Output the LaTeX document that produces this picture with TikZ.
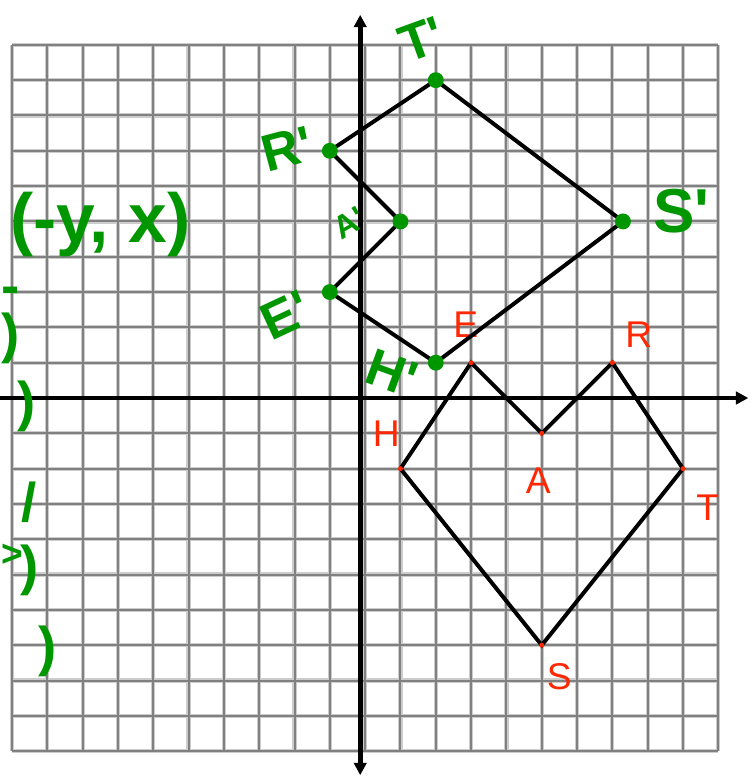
\documentclass[tikz,border=0pt]{standalone}
\usepackage{fontspec}
\usepackage{xcolor}
\usepackage{tikz}
\usetikzlibrary{arrows.meta}
\newfontfamily\penfont{Liberation Sans}
\definecolor{pengreen}{RGB}{0,150,0}
\definecolor{markred}{RGB}{255,40,0}
\definecolor{gridgray}{RGB}{128,128,128}

\begin{document}
\begin{tikzpicture}[
    redlabel/.style={text=markred, inner sep=0pt, font=\penfont\fontsize{30}{32}\selectfont},
    greenlabel/.style={text=pengreen, inner sep=0pt, font=\penfont\bfseries\fontsize{42}{44}\selectfont},
    scrawl/.style={text=pengreen, inner sep=0pt, font=\penfont\bfseries\fontsize{56}{60}\selectfont},
    reddot/.style={circle, fill=markred, inner sep=0pt, minimum size=4pt},
    greendot/.style={circle, fill=pengreen, inner sep=0pt, minimum size=0.45cm},
    axis/.style={line width=4pt, -{Triangle[length=10pt, width=10pt]}}]
    \useasboundingbox (-10.34,-10.76) rectangle (10.93,11.27);
    \clip (-10.34,-10.76) rectangle (10.93,11.27);
    \fill[white] (-10.34,-10.76) rectangle (10.93,11.27);

    % Grid
    \draw[gridgray!40, line width=3.4pt] (-10,-10) grid (10,10);
    \draw[gridgray, line width=1.6pt] (-10,-10) grid (10,10);

    % Axes
    \coordinate (xleft) at (-10.6,0);
    \coordinate (xright) at (10.85,0);
    \coordinate (ybottom) at (-0.14,-10.68);
    \coordinate (ytop) at (-0.14,10.85);
    \draw[axis] (xleft) -- (xright);
    \draw[axis, {Triangle[length=10pt, width=10pt]}-{Triangle[length=10pt, width=10pt]}] (ybottom) -- (ytop);

    % Pre-image HEARTS
    \coordinate (H) at (1,-2);
    \coordinate (E) at (3,1);
    \coordinate (A) at (5,-1);
    \coordinate (R) at (7,1);
    \coordinate (T) at (9,-2);
    \coordinate (S) at (5,-7);
    \draw[line width=3.2pt] (H) -- (E) -- (A) -- (R) -- (T) -- (S) -- cycle;
    \foreach \p in {H,E,A,R,T,S}
        \node[reddot] at (\p) {};
    \node[redlabel] (labH) at (0.6,-1.02) {H};
    \node[redlabel] (labE) at (2.85,2.07) {E};
    \node[redlabel] (labA) at (4.9,-2.35) {A};
    \node[redlabel] (labR) at (7.75,1.78) {R};
    \node[redlabel] (labT) at (9.7,-3.1) {T};
    \node[redlabel] (labS) at (5.5,-7.88) {S};

    % Image after rotation
    \coordinate (H2) at (2,1);
    \coordinate (E2) at (-1,3);
    \coordinate (A2) at (1,5);
    \coordinate (R2) at (-1,7);
    \coordinate (T2) at (2,9);
    \coordinate (S2) at (7.3,5);
    \draw[line width=3.2pt] (H2) -- (E2) -- (A2) -- (R2) -- (T2) -- (S2) -- cycle;
    \foreach \p in {H2,E2,A2,R2,T2,S2}
        \node[greendot] at (\p) {};
    \node[greenlabel, rotate=-20] (labH2) at (0.75,0.7) {H'};
    \node[greenlabel, rotate=25] (labE2) at (-2.25,2.35) {E'};
    \node[greenlabel, rotate=30, font=\penfont\bfseries\fontsize{26}{28}\selectfont] (labA2) at (-0.45,4.95) {A'};
    \node[greenlabel, rotate=15] (labR2) at (-2.2,7.05) {R'};
    \node[greenlabel, rotate=20] (labT2) at (1.6,10.15) {T'};
    \node[greenlabel, font=\penfont\bfseries\fontsize{50}{52}\selectfont] (labS2) at (8.95,5.3) {S'};

    % Rule written in the margin
    \node[scrawl] (rule) at (-7.5,4.9) {(-y, x)};
    \node[scrawl, font=\penfont\bfseries\fontsize{44}{46}\selectfont] (cutA) at (-10.05,1.7) {)};
    \node[scrawl, font=\penfont\bfseries\fontsize{44}{46}\selectfont] (cutB) at (-10.05,2.9) {-};
    \node[scrawl, font=\penfont\bfseries\fontsize{44}{46}\selectfont] (cutC) at (-9.6,-0.23) {)};
    \node[scrawl, font=\penfont\bfseries\fontsize{44}{46}\selectfont] (cutD) at (-9.52,-2.95) {/};
    \node[scrawl, font=\penfont\bfseries\fontsize{30}{32}\selectfont] (cutE) at (-9.98,-4.45) {>};
    \node[scrawl, font=\penfont\bfseries\fontsize{44}{46}\selectfont] (cutF) at (-9.5,-4.87) {)};
    \node[scrawl, font=\penfont\bfseries\fontsize{44}{46}\selectfont] (cutG) at (-8.98,-7.17) {)};
\end{tikzpicture}
\end{document}
